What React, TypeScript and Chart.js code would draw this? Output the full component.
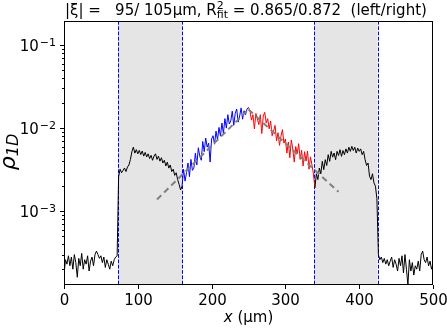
import { useEffect, useRef } from "react";
import { Chart, registerables } from "chart.js";

Chart.register(...registerables);

// ---- data (x sampled every 2 µm from 0 to 500) ----
const xStep = 2;
const baseLeft = [
  1.7e-4, 2.6e-4, 2.3e-4, 2.9e-4, 2.2e-4, 2.8e-4, 2.0e-4, 3.0e-4, 2.4e-4, 1.6e-4,
  2.7e-4, 2.2e-4, 3.1e-4, 2.0e-4, 2.6e-4, 2.3e-4, 2.9e-4, 1.9e-4, 2.5e-4, 2.8e-4,
  2.2e-4, 3.0e-4, 3.3e-4, 3.0e-4, 2.7e-4, 2.9e-4, 2.4e-4, 2.8e-4, 2.1e-4, 2.6e-4,
  2.3e-4, 2.0e-4, 2.5e-4, 2.2e-4, 2.6e-4, 2.8e-4, 2.9e-4,
];
const plateauLeft = [
  2.6e-3, 3.2e-3, 2.9e-3, 3.1e-3, 3.3e-3, 3.0e-3, 3.4e-3, 3.6e-3, 4.2e-3, 5.2e-3,
  5.9e-3, 5.0e-3, 5.5e-3, 4.9e-3, 5.4e-3, 4.8e-3, 5.3e-3, 4.6e-3, 5.1e-3, 4.5e-3,
  4.9e-3, 4.3e-3, 4.7e-3, 4.1e-3, 4.6e-3, 4.9e-3, 4.2e-3, 4.6e-3, 4.0e-3, 4.4e-3,
  3.8e-3, 4.1e-3, 3.5e-3, 3.9e-3, 3.3e-3, 3.6e-3, 3.0e-3, 3.2e-3, 2.7e-3, 2.9e-3,
  2.4e-3, 2.1e-3, 1.8e-3,
];
const riseBlue = [
  2.0e-3, 3.2e-3, 2.3e-3, 2.9e-3, 3.8e-3, 2.6e-3, 4.2e-3, 3.1e-3, 3.3e-3, 5.0e-3,
  3.6e-3, 5.8e-3, 4.6e-3, 4.1e-3, 6.9e-3, 5.2e-3, 7.6e-3, 5.9e-3, 6.6e-3, 3.9e-3,
  7.4e-3, 8.1e-3, 6.4e-3, 9.2e-3, 7.2e-3, 1.02e-2, 8.0e-3, 1.15e-2, 8.6e-3, 1.3e-2,
  1.0e-2, 1.45e-2, 1.12e-2, 1.22e-2, 1.6e-2, 1.08e-2, 1.5e-2, 1.7e-2, 1.18e-2, 1.4e-2,
  1.75e-2, 1.28e-2, 1.62e-2, 1.45e-2, 1.7e-2, 1.78e-2,
];
const fallRed = [
  1.6e-2, 1.25e-2, 1.45e-2, 9.8e-3, 1.5e-2, 1.3e-2, 1.1e-2, 1.45e-2, 8.6e-3, 1.4e-2,
  1.55e-2, 1.15e-2, 1.3e-2, 9.8e-3, 1.22e-2, 8.1e-3, 9.2e-3, 1.08e-2, 7.0e-3, 8.8e-3,
  6.2e-3, 8.0e-3, 9.6e-3, 6.6e-3, 7.4e-3, 5.0e-3, 6.8e-3, 4.4e-3, 7.2e-3, 5.6e-3,
  3.9e-3, 6.0e-3, 4.9e-3, 6.5e-3, 4.2e-3, 5.4e-3, 3.5e-3, 5.2e-3, 4.0e-3, 5.3e-3,
  3.2e-3, 4.5e-3, 3.6e-3, 2.8e-3,
];
const plateauRight = [
  1.91e-3, 2.82e-3, 2.4e-3, 3.31e-3, 2.82e-3, 3.98e-3, 3.16e-3, 4.17e-3, 3.55e-3, 4.79e-3,
  3.98e-3, 5.25e-3, 4.47e-3, 5.01e-3, 4.17e-3, 5.25e-3, 4.68e-3, 5.5e-3, 4.57e-3, 5.37e-3,
  4.79e-3, 5.62e-3, 5.01e-3, 5.89e-3, 5.25e-3, 6.03e-3, 5.37e-3, 5.89e-3, 5.01e-3, 5.75e-3,
  5.25e-3, 5.62e-3, 4.79e-3, 5.25e-3, 4.17e-3, 3.55e-3, 3.8e-3, 2.63e-3, 2.4e-3, 2.82e-3,
  2.19e-3, 2.0e-3, 1.41e-3,
];
const baseRight = [
  3.0e-4, 2.6e-4, 2.8e-4, 2.4e-4, 2.7e-4, 2.3e-4, 2.6e-4, 2.2e-4, 2.5e-4, 2.8e-4,
  2.1e-4, 2.6e-4, 2.3e-4, 1.9e-4, 2.7e-4, 2.2e-4, 2.9e-4, 1.8e-4, 3.0e-4, 2.0e-4,
  1.3e-4, 2.6e-4, 1.9e-4, 2.4e-4, 1.7e-4, 2.2e-4, 2.0e-4, 2.5e-4, 1.9e-4, 3.0e-4,
  3.3e-4, 2.6e-4, 2.4e-4, 2.8e-4, 2.2e-4, 2.5e-4, 2.0e-4, 2.3e-4,
];
const rho = [...baseLeft, ...plateauLeft, ...riseBlue, ...fallRed, ...plateauRight, ...baseRight];
const xPos = rho.map((_, i) => i * xStep);

const regionEdges = [73, 160, 339, 425];
const blueRange = [160, 250];
const redRange = [250, 340];
const fitLeftX = [126, 250];
const fitLeftY = [1.38e-3, 1.68e-2];
const fitRightX = [250, 372];
const fitRightY = [1.68e-2, 1.71e-3];

const xTicks = [0, 100, 200, 300, 400, 500];
const yMajorExp = [-1, -2, -3];
const xRange = [0, 500];
const yRange = [1.29e-4, 0.195];

const FONT = "'DejaVu Sans', sans-serif";

function drawParts(ctx: CanvasRenderingContext2D, parts: any[], x0: number, y: number) {
  let x = x0;
  for (const p of parts) {
    if (p.stack) {
      let w = 0;
      for (const s of p.stack) {
        ctx.font = s.font;
        ctx.fillText(s.t, x + (s.dx || 0), y + s.dy);
        w = Math.max(w, ctx.measureText(s.t).width + (s.dx || 0));
      }
      x += w;
    } else {
      ctx.font = p.font;
      ctx.fillText(p.t, x, y + (p.dy || 0));
      x += ctx.measureText(p.t).width;
    }
  }
  return x - x0;
}

const decor = {
  id: "decor",
  beforeDatasetsDraw(chart: any) {
    const { ctx, chartArea: a, scales } = chart;
    const xs = scales.x;
    ctx.save();
    ctx.fillStyle = "#e5e5e5";
    for (let i = 0; i < regionEdges.length; i += 2) {
      const x0 = xs.getPixelForValue(regionEdges[i]);
      const x1 = xs.getPixelForValue(regionEdges[i + 1]);
      ctx.fillRect(x0, a.top, x1 - x0, a.bottom - a.top);
    }
    ctx.strokeStyle = "#0000ff";
    ctx.lineWidth = 1;
    ctx.setLineDash([3.7, 1.6]);
    for (const e of regionEdges) {
      const px = Math.round(xs.getPixelForValue(e)) + 0.5;
      ctx.beginPath();
      ctx.moveTo(px, a.top);
      ctx.lineTo(px, a.bottom);
      ctx.stroke();
    }
    ctx.restore();
  },
  afterDraw(chart: any) {
    const { ctx, chartArea: a, scales } = chart;
    const xs = scales.x;
    const ys = scales.y;
    ctx.save();
    ctx.strokeStyle = "#000";
    ctx.lineWidth = 1;
    ctx.setLineDash([]);
    // frame
    ctx.strokeRect(Math.round(a.left) + 0.5, Math.round(a.top) + 0.5,
      Math.round(a.right - a.left) - 1, Math.round(a.bottom - a.top) - 1);
    // x ticks + labels
    const bot = Math.round(a.bottom);
    ctx.fillStyle = "#000";
    ctx.textBaseline = "alphabetic";
    for (const t of xTicks) {
      const px = Math.round(xs.getPixelForValue(t)) + 0.5;
      ctx.beginPath();
      ctx.moveTo(px, bot);
      ctx.lineTo(px, bot + 4);
      ctx.stroke();
      ctx.font = `15px ${FONT}`;
      ctx.textAlign = "center";
      ctx.fillText(String(t), px, 305);
    }
    // y ticks (major + minor)
    const left = Math.round(a.left);
    for (let e = -5; e <= 0; e++) {
      for (let m = 1; m <= 9; m++) {
        const v = m * Math.pow(10, e);
        if (v < yRange[0] || v > yRange[1]) continue;
        const py = Math.round(ys.getPixelForValue(v)) + 0.5;
        const len = m === 1 ? 4 : 2;
        ctx.beginPath();
        ctx.moveTo(left, py);
        ctx.lineTo(left - len, py);
        ctx.stroke();
      }
    }
    // y tick labels
    ctx.textAlign = "left";
    for (const e of yMajorExp) {
      const py = ys.getPixelForValue(Math.pow(10, e));
      const sup = "\u2212" + String(-e);
      ctx.font = `11px ${FONT}`;
      const ws = ctx.measureText(sup).width;
      ctx.font = `15px ${FONT}`;
      const wb = ctx.measureText("10").width;
      const right = 56;
      ctx.fillText("10", right - ws - wb - 1, py + 6);
      ctx.font = `11px ${FONT}`;
      ctx.fillText(sup, right - ws, py + 1);
    }
    // title
    drawParts(ctx, [
      { t: "|\u03be| =   95/ 105\u03bcm, R", font: `15px ${FONT}` },
      { stack: [
        { t: "2", font: `11px ${FONT}`, dy: -6 },
        { t: "fit", font: `11px ${FONT}`, dy: 3 },
      ] },
      { t: " = 0.865/0.872  (left/right)", font: `15px ${FONT}` },
    ], 65, 15);
    // x title
    ctx.font = `italic 15px ${FONT}`;
    const wx = ctx.measureText("x").width;
    ctx.font = `15px ${FONT}`;
    const wr = ctx.measureText(" (\u03bcm)").width;
    const cx = (a.left + a.right) / 2;
    const sx = cx - (wx + wr) / 2;
    ctx.font = `italic 15px ${FONT}`;
    ctx.fillText("x", sx, 322);
    ctx.font = `15px ${FONT}`;
    ctx.fillText(" (\u03bcm)", sx + wx, 322);
    // y title (rotated)
    ctx.translate(15, 152);
    ctx.rotate(-Math.PI / 2);
    ctx.font = `italic 22px ${FONT}`;
    const wp = ctx.measureText("\u03c1").width;
    ctx.font = `italic 16px ${FONT}`;
    const wd = ctx.measureText("1D").width;
    const tx = -(wp + wd) / 2;
    ctx.font = `italic 22px ${FONT}`;
    ctx.fillText("\u03c1", tx, 0);
    ctx.font = `italic 16px ${FONT}`;
    ctx.fillText("1D", tx + wp, 3);
    ctx.restore();
  },
};

export default function App() {
  const ref = useRef<HTMLCanvasElement>(null);
  useEffect(() => {
    if (!ref.current) return;
    const lineData = xPos.map((x, i) => ({ x, y: rho[i] }));
    const chart = new Chart(ref.current, {
      type: "line",
      data: {
        datasets: [
          {
            data: fitLeftX.map((x, i) => ({ x, y: fitLeftY[i] })),
            borderColor: "#808080",
            borderWidth: 2,
            borderDash: [6, 4],
            pointRadius: 0,
            order: 0,
          },
          {
            data: fitRightX.map((x, i) => ({ x, y: fitRightY[i] })),
            borderColor: "#808080",
            borderWidth: 2,
            borderDash: [6, 4],
            pointRadius: 0,
            order: 0,
          },
          {
            data: lineData,
            borderColor: "#000",
            borderWidth: 1,
            pointRadius: 0,
            order: 1,
            segment: {
              borderColor: (c: any) => {
                const x = c.p0.parsed.x;
                if (x >= blueRange[0] && x < blueRange[1]) return "#0000ff";
                if (x >= redRange[0] && x < redRange[1]) return "#ff0000";
                return "#000000";
              },
            },
          },
        ],
      },
      options: {
        animation: false,
        responsive: false,
        devicePixelRatio: 1,
        layout: { padding: { top: 21, right: 14, left: 0, bottom: 0 } },
        plugins: { legend: { display: false }, tooltip: { enabled: false }, title: { display: false } },
        elements: { line: { tension: 0 } },
        scales: {
          x: {
            type: "linear",
            min: xRange[0],
            max: xRange[1],
            grid: { display: false },
            border: { display: false },
            ticks: { display: false },
            afterFit: (s: any) => { s.height = 43; },
          },
          y: {
            type: "logarithmic",
            min: yRange[0],
            max: yRange[1],
            grid: { display: false },
            border: { display: false },
            ticks: { display: false },
            afterFit: (s: any) => { s.width = 64; },
          },
        },
      },
      plugins: [decor],
    } as any);
    return () => chart.destroy();
  }, []);
  return (
    <div style={{ position: "fixed", left: 0, top: 0, width: 447, height: 328, background: "#fff" }}>
      <canvas ref={ref} width={447} height={328} />
    </div>
  );
}
